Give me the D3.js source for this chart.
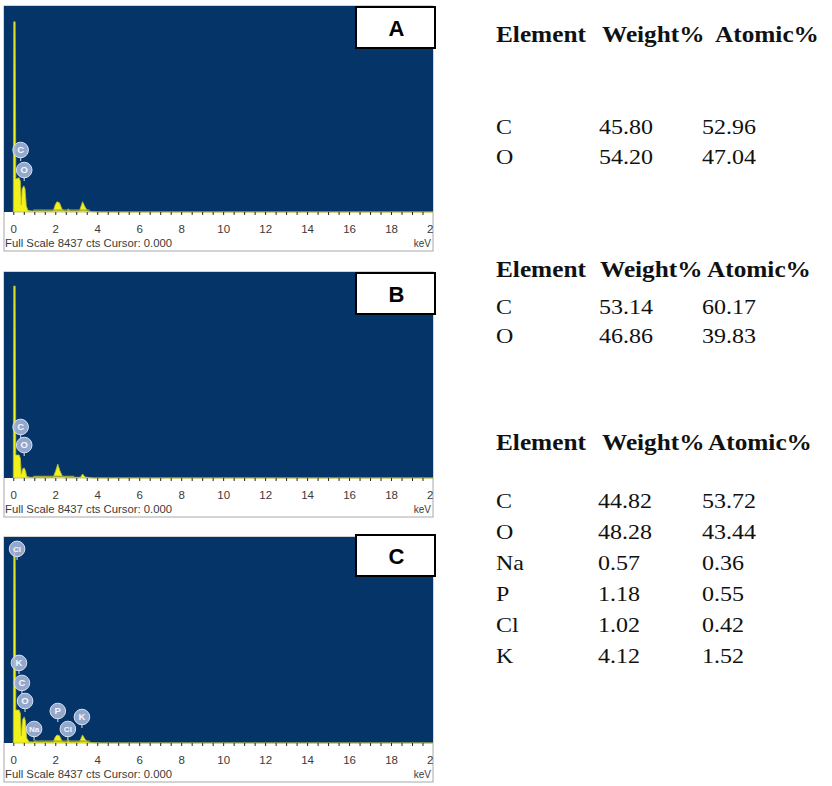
<!DOCTYPE html>
<html>
<head>
<meta charset="utf-8">
<script src="https://cdn.jsdelivr.net/npm/d3@7"></script>
<style>
    body { margin: 0; background: #fff; }
    svg { display: block; }
</style>
</head>
<body>
<svg id="chart"></svg>
<script>
// spectra: [keV, counts]
const spectrumA = [
    [0, 0], [0.02, 7790], [0.09, 7790], [0.12, 1350], [0.2, 1380], [0.28, 1400], [0.34, 1250],
    [0.38, 300], [0.42, 950], [0.5, 1070], [0.56, 950], [0.62, 250], [0.7, 60], [0.9, 40],
    [1.9, 40], [2.0, 300], [2.08, 420], [2.2, 380], [2.32, 120], [2.45, 40], [2.55, 40],
    [2.62, 130], [2.7, 40], [3.15, 40], [3.3, 420], [3.42, 200], [3.55, 40], [3.8, 10],
    [4.2, 0], [20, 0]
];
const spectrumB = [
    [0, 0], [0.02, 7860], [0.09, 7860], [0.12, 940], [0.28, 940], [0.34, 800], [0.38, 150],
    [0.45, 380], [0.52, 410], [0.58, 300], [0.64, 60], [0.8, 30], [1.9, 30], [2.02, 300],
    [2.12, 570], [2.22, 300], [2.35, 60], [2.5, 30], [3.2, 30], [3.3, 165], [3.42, 40],
    [3.8, 0], [20, 0]
];
const spectrumC = [
    [0, 0], [0.02, 7950], [0.09, 7950], [0.12, 1350], [0.28, 1350], [0.34, 1200], [0.38, 300],
    [0.44, 950], [0.52, 1070], [0.58, 900], [0.64, 200], [0.75, 50], [1.0, 40], [1.04, 90],
    [1.1, 40], [1.9, 40], [2.0, 250], [2.08, 330], [2.2, 300], [2.32, 80], [2.45, 40],
    [2.55, 40], [2.62, 130], [2.7, 40], [3.15, 40], [3.3, 330], [3.42, 150], [3.55, 40],
    [3.8, 10], [4.2, 0], [20, 0]
];
const backgroundA = [[0.95, 80], [3.65, 80]];
const backgroundB = [[0.95, 70], [2.9, 70]];
const backgroundC = [[0.95, 80], [3.65, 80]];

// peak labels: element, keV, label height in counts
const markersA = [["C", 0.35, 2540], ["O", 0.52, 1720]];
const markersB = [["C", 0.35, 2090], ["O", 0.52, 1350]];
const markersC = [
    ["Cl", 0.18, 7950], ["K", 0.27, 3280], ["C", 0.41, 2460], ["O", 0.56, 1720],
    ["Na", 0.99, 575], ["P", 2.12, 1310], ["Cl", 2.6, 575], ["K", 3.27, 1065]
];

const energyTicks = [0, 2, 4, 6, 8, 10, 12, 14, 16, 18, 20];
const fullScale = 8437;
const panelLabels = ["A", "B", "C"];

// tables
const tableHeader = ["Element", "Weight%", "Atomic%"];
const elementsA = ["C", "O"];
const weightA = ["45.80", "54.20"];
const atomicA = ["52.96", "47.04"];
const elementsB = ["C", "O"];
const weightB = ["53.14", "46.86"];
const atomicB = ["60.17", "39.83"];
const elementsC = ["C", "O", "Na", "P", "Cl", "K"];
const weightC = ["44.82", "48.28", "0.57", "1.18", "1.02", "4.12"];
const atomicC = ["53.72", "43.44", "0.36", "0.55", "0.42", "1.52"];

const svg = d3.select("#chart").attr("width", 832).attr("height", 786);

class SpectrumPanel {
    plot = { left: 4, right: 433, zero: 13.3, height: 206, strip: 39 };

    constructor(svg, top, spectrum, background, markers, label, idx){
        this.svg = svg;
        this.top = top;
        this.spectrum = spectrum;
        this.background = background;
        this.markers = markers;
        this.label = label;
        this.idx = idx;
    }

    render(){
        const p = this.plot;
        const g = this.svg.append("g").attr("transform", `translate(0, ${this.top})`);

        const clipId = "clip" + this.idx;
        g.append("clipPath").attr("id", clipId)
            .append("rect")
            .attr("x", p.left).attr("y", 0)
            .attr("width", p.right - p.left).attr("height", p.height + p.strip);

        const x = d3.scaleLinear().domain([0, 20]).range([p.zero, p.right]);
        const y = d3.scaleLinear().domain([0, fullScale]).range([p.height, 0]);

        // strip + blue plot area
        g.append("rect")
            .attr("x", p.left).attr("y", 0)
            .attr("width", p.right - p.left).attr("height", p.height + p.strip)
            .attr("fill", "#fff").attr("stroke", "#a8a8a8").attr("stroke-width", 1);
        g.append("rect")
            .attr("x", p.left).attr("y", 0)
            .attr("width", p.right - p.left).attr("height", p.height)
            .attr("fill", "#053468");

        const inner = g.append("g").attr("clip-path", `url(#${clipId})`);

        const area = d3.area()
            .x(d => x(d[0]))
            .y0(y(0))
            .y1(d => y(d[1]));
        inner.append("path")
            .datum(this.spectrum)
            .attr("d", area)
            .attr("fill", "#f2f21a")
            .attr("stroke", "#b4b83c")
            .attr("stroke-width", 0.8);

        inner.append("path")
            .datum(this.background)
            .attr("d", d3.line().x(d => x(d[0])).y(d => y(d[1])))
            .attr("fill", "none")
            .attr("stroke", "#9ea43a")
            .attr("stroke-width", 1.2);

        // axis
        const minor = d3.axisBottom(x)
            .tickValues(d3.range(0, 20.01, 0.5))
            .tickSize(3)
            .tickFormat("");
        inner.append("g")
            .attr("transform", `translate(0, ${p.height})`)
            .call(minor)
            .call(a => a.select(".domain").remove())
            .call(a => a.selectAll("line").attr("stroke", "#222"));

        const major = d3.axisBottom(x)
            .tickValues(energyTicks)
            .tickSize(0)
            .tickPadding(13)
            .tickFormat(d3.format("d"));
        inner.append("g")
            .attr("transform", `translate(0, ${p.height})`)
            .call(major)
            .call(a => a.select(".domain").remove())
            .call(a => a.selectAll("text")
                .attr("font-family", "Liberation Sans, Arial, sans-serif")
                .attr("font-size", 11.5)
                .attr("fill", "#3a3a3a"));

        g.append("text")
            .attr("x", 5).attr("y", p.height + 35)
            .attr("font-family", "Liberation Sans, Arial, sans-serif")
            .attr("font-size", 11.3)
            .attr("fill", "#3a3a3a")
            .text(`Full Scale ${fullScale} cts Cursor: 0.000`);
        g.append("text")
            .attr("x", p.right - 2).attr("y", p.height + 35)
            .attr("text-anchor", "end")
            .attr("font-family", "Liberation Sans, Arial, sans-serif")
            .attr("font-size", 10)
            .attr("fill", "#3a3a3a")
            .text("keV");

        // peak markers
        const mk = inner.selectAll("g.marker")
            .data(this.markers)
            .join("g")
            .attr("class", "marker")
            .attr("transform", d => `translate(${x(d[1])}, ${y(d[2])})`);
        mk.append("line")
            .attr("x1", 0).attr("x2", 0).attr("y1", 7).attr("y2", 11)
            .attr("stroke", "#b9c6e0").attr("stroke-width", 1.2);
        mk.append("circle")
            .attr("r", 7.8)
            .attr("fill", "#a3b5d8")
            .attr("fill-opacity", 0.9)
            .attr("stroke", "#d9e1f0")
            .attr("stroke-width", 1);
        mk.append("text")
            .attr("text-anchor", "middle")
            .attr("dy", "0.35em")
            .attr("font-family", "Liberation Sans, Arial, sans-serif")
            .attr("font-size", d => d[0].length > 1 ? 8 : 9.5)
            .attr("font-weight", "bold")
            .attr("fill", "#f4f6fb")
            .text(d => d[0]);

        // panel letter box
        const box = { x: 356, y: this.idx === 2 ? -2 : 1, w: 79, h: 41 };
        g.append("rect")
            .attr("x", box.x).attr("y", box.y)
            .attr("width", box.w).attr("height", box.h)
            .attr("fill", "#fff").attr("stroke", "#000").attr("stroke-width", 2);
        g.append("text")
            .attr("x", box.x + box.w / 2 + 1).attr("y", box.y + box.h / 2 + 8)
            .attr("text-anchor", "middle")
            .attr("font-family", "Liberation Sans, Arial, sans-serif")
            .attr("font-weight", "bold")
            .attr("font-size", 22)
            .text(this.label);
    }
}

function renderTable(svg, headerY, headerX, rowY, dataX, elements, weight, atomic){
    svg.append("g").selectAll("text")
        .data(tableHeader)
        .join("text")
        .attr("transform", (d, i) => `translate(${headerX[i]}, ${headerY}) scale(1.1, 1)`)
        .attr("font-family", "Liberation Serif, Times New Roman, serif")
        .attr("font-weight", "bold")
        .attr("font-size", 23)
        .attr("fill", "#111")
        .text(d => d);

    const rows = elements.map((e, i) => [e, weight[i], atomic[i]]);
    svg.append("g").selectAll("g")
        .data(rows)
        .join("g")
        .attr("transform", (d, i) => `translate(0, ${rowY[i]})`)
        .selectAll("text")
        .data(d => d)
        .join("text")
        .attr("transform", (d, i) => `translate(${dataX[i]}, 0) scale(1.2, 1)`)
        .attr("font-family", "Liberation Serif, Times New Roman, serif")
        .attr("font-size", 20)
        .attr("fill", "#111")
        .text(d => d);
}

const panelTops = [6, 272, 537];
const spectra = [spectrumA, spectrumB, spectrumC];
const backgrounds = [backgroundA, backgroundB, backgroundC];
const markers = [markersA, markersB, markersC];
panelTops.forEach((top, i) => {
    new SpectrumPanel(svg, top, spectra[i], backgrounds[i], markers[i], panelLabels[i], i).render();
});

renderTable(svg, 42, [496, 602, 715], [134, 164], [496, 599, 702], elementsA, weightA, atomicA);
renderTable(svg, 277, [496, 600, 707], [314, 343], [496, 599, 702], elementsB, weightB, atomicB);
renderTable(svg, 450, [496, 602, 708], [508, 539, 570, 601, 632, 663], [496, 598, 702], elementsC, weightC, atomicC);
</script>
</body>
</html>
